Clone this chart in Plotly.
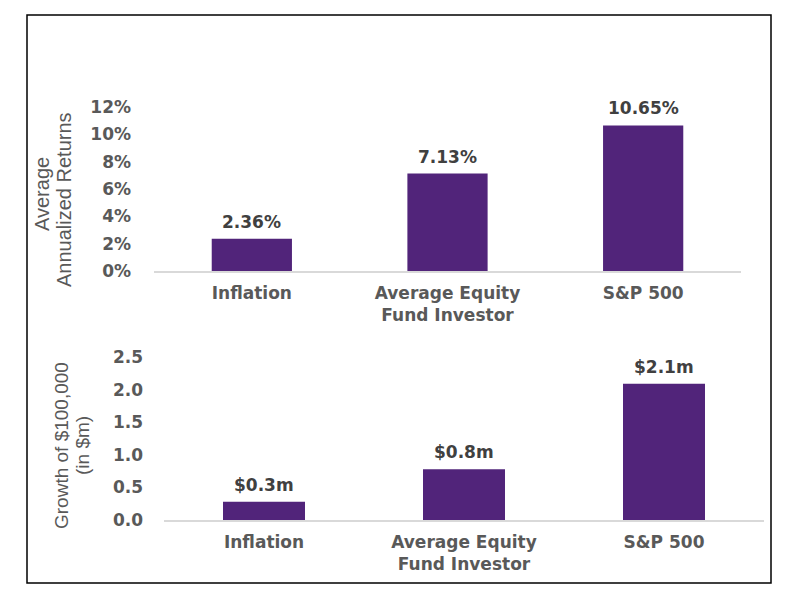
import plotly.graph_objects as go
from plotly.subplots import make_subplots

categories = ["Inflation", "Average Equity<br>Fund Investor", "S&P 500"]
returns_pct = [2.36, 7.13, 10.65]
returns_labels = ["2.36%", "7.13%", "10.65%"]
growth_m = [0.28, 0.78, 2.09]
growth_labels = ["$0.3m", "$0.8m", "$2.1m"]
top_ticks = [0, 2, 4, 6, 8, 10, 12]
top_ticktext = ["0%", "2%", "4%", "6%", "8%", "10%", "12%"]
bot_ticks = [0, 0.5, 1.0, 1.5, 2.0, 2.5]
bot_ticktext = ["0.0", "0.5", "1.0", "1.5", "2.0", "2.5"]

W, H = 800, 600
OFF = 8  # page body offset
BAR = "#51247a"
GRAY = "#595959"
DARK = "#404040"
BOLD = dict(family="DejaVu Sans", size=17, color=GRAY, weight="bold")
LBL = dict(family="DejaVu Sans", size=17, color=DARK, weight="bold")

fig = make_subplots(rows=2, cols=1)

fig.add_trace(go.Bar(x=categories, y=returns_pct, width=0.41,
                     marker=dict(color=BAR, line=dict(width=0))),
              row=1, col=1)
fig.add_trace(go.Bar(x=categories, y=growth_m, width=0.41,
                     marker=dict(color=BAR, line=dict(width=0))),
              row=2, col=1)

for c, v, t in zip(categories, returns_pct, returns_labels):
    fig.add_annotation(x=c, y=v, text=t, xref="x", yref="y", yanchor="bottom",
                       yshift=5, showarrow=False, font=LBL)
for c, v, t in zip(categories, growth_m, growth_labels):
    fig.add_annotation(x=c, y=v, text=t, xref="x2", yref="y2", yanchor="bottom",
                       yshift=5, showarrow=False, font=LBL)

def fx(x):
    return (x - OFF) / W

def fy(y):
    return 1 - (y - OFF) / H

def px(x0, x1):
    return [fx(x0), fx(x1)]

def py(ytop, ybot):
    return [fy(ybot), fy(ytop)]

fig.update_layout(
    width=W, height=H, margin=dict(l=0, r=0, t=0, b=0, autoexpand=False),
    paper_bgcolor="white", plot_bgcolor="white", showlegend=False,
    xaxis=dict(domain=px(154, 741), showline=True, linecolor="#d9d9d9", linewidth=1.5,
               ticks="", tickfont=BOLD, ticklabelstandoff=6, showgrid=False, automargin=False),
    yaxis=dict(domain=py(107, 271), range=[0, 12], tickvals=top_ticks, ticktext=top_ticktext,
               showgrid=False, zeroline=False, showline=False, ticks="", automargin=False,
               tickfont=BOLD, ticklabelstandoff=22),
    xaxis2=dict(domain=px(164, 764), showline=True, linecolor="#d9d9d9", linewidth=1.5,
                ticks="", tickfont=BOLD, ticklabelstandoff=6, showgrid=False, automargin=False),
    yaxis2=dict(domain=py(357, 520), range=[0, 2.5], tickvals=bot_ticks, ticktext=bot_ticktext,
                showgrid=False, zeroline=False, showline=False, ticks="", automargin=False,
                tickfont=BOLD, ticklabelstandoff=20),
)

for txt, x, y, s in [("Average", 42, 194, 20), ("Annualized Returns", 64, 200, 20),
                     ("Growth of $100,000", 61, 446, 19), ("(in $m)", 82, 446, 19)]:
    fig.add_annotation(text=txt, xref="paper", yref="paper", x=fx(x), y=fy(y),
                       xanchor="center", yanchor="middle", textangle=-90,
                       showarrow=False,
                       font=dict(family="Liberation Sans, Arial", size=s, color=GRAY))

fig.add_shape(type="rect", xref="paper", yref="paper",
              x0=fx(27), x1=fx(771), y0=fy(583), y1=fy(15),
              line=dict(color="black", width=1.5), fillcolor="rgba(0,0,0,0)")

fig.write_html("out.html")
